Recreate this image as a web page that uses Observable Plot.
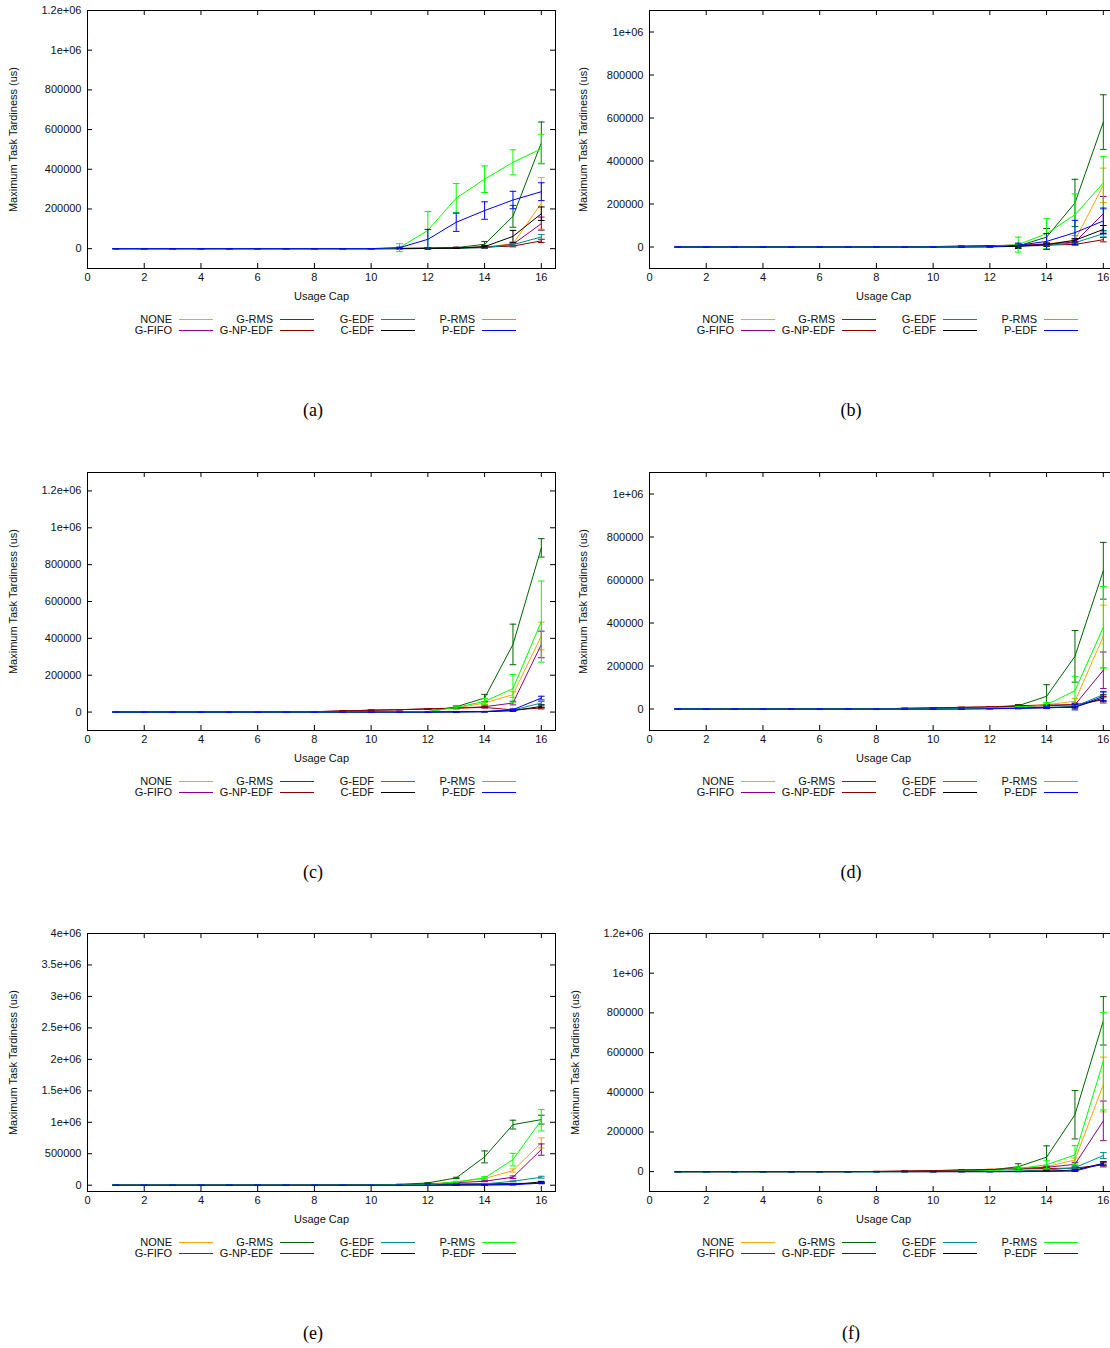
<!DOCTYPE html>
<html><head><meta charset="utf-8">
<script src="https://cdn.jsdelivr.net/npm/d3@7"></script>
<script src="https://cdn.jsdelivr.net/npm/@observablehq/plot@0.6"></script>
<style>
html,body{margin:0;padding:0;overflow:hidden;background:#fff;}
#root{position:relative;width:1110px;height:1348px;overflow:hidden;}
.panel{position:absolute;width:560px;height:440px;}
.panel svg{position:absolute;left:0;top:0;}
.lg{position:absolute;font:11px "Liberation Sans",Arial,sans-serif;color:#111;line-height:12px;white-space:nowrap;}
.lgl{position:absolute;height:1px;}
.cap{position:absolute;font:18px "Liberation Serif","Times New Roman",serif;color:#000;transform:translateX(-50%);}
</style></head><body><div id="root"></div>
<script>
// ---------- data ----------
const xs = [1,2,3,4,5,6,7,8,9,10,11,12,13,14,15,16];
const xTicks = [0,2,4,6,8,10,12,14,16];
const seriesNames = ["NONE","G-FIFO","G-RMS","G-NP-EDF","G-EDF","C-EDF","P-RMS","P-EDF"];
const seriesColors = ["#ffa500","#8b008b","#006400","#8b0000","#008b8b","#000000","#00ff00","#0000ff"];
const captions = ["(a)","(b)","(c)","(d)","(e)","(f)"];
const yLabel = "Maximum Task Tardiness (us)";
const xLabel = "Usage Cap";

const yTicksA = [0,200000,400000,600000,800000,1000000,1200000];
const yTicksB = [0,200000,400000,600000,800000,1000000];
const yTicksC = [0,200000,400000,600000,800000,1000000,1200000];
const yTicksD = [0,200000,400000,600000,800000,1000000];
const yTicksE = [0,500000,1000000,1500000,2000000,2500000,3000000,3500000,4000000];
const yTicksF = [0,200000,400000,600000,800000,1000000,1200000];

// mean values, series order = seriesNames, x = 1..16
const meanA = [
  [0,0,0,0,0,0,0,0,0,0,1000,2000,3000,8000,25000,228000],
  [0,0,0,0,0,0,0,0,0,0,1000,2000,3000,6000,22000,126000],
  [0,0,0,0,0,0,0,0,0,0,0,1000,5000,22000,163000,533000],
  [0,0,0,0,0,0,0,0,0,0,1000,3000,5000,8000,13000,39000],
  [0,0,0,0,0,0,0,0,0,0,0,1000,2000,5000,20000,59000],
  [0,0,0,0,0,0,0,0,0,0,0,1000,2000,10000,62000,176000],
  [0,0,0,0,0,0,0,0,0,0,5000,92000,255000,350000,435000,503000],
  [0,0,0,0,0,0,0,0,0,0,5000,47000,133000,192000,245000,287000]
];
const errA = [
  [0,0,0,0,0,0,0,0,0,0,0,0,1000,3000,8000,130000],
  [0,0,0,0,0,0,0,0,0,0,0,0,1000,2000,6000,33000],
  [0,0,0,0,0,0,0,0,0,0,0,0,2000,14000,55000,105000],
  [0,0,0,0,0,0,0,0,0,0,0,1000,2000,3000,4000,8000],
  [0,0,0,0,0,0,0,0,0,0,0,0,1000,2000,6000,12000],
  [0,0,0,0,0,0,0,0,0,0,0,0,1000,6000,30000,34000],
  [0,0,0,0,0,0,0,0,0,0,20000,95000,73000,67000,63000,73000],
  [0,0,0,0,0,0,0,0,0,0,3000,50000,46000,44000,44000,45000]
];
const meanB = [
  [0,0,0,0,0,0,0,1000,1000,2000,4000,6000,9000,15000,31000,287000],
  [0,0,0,0,0,0,0,1000,1000,2000,4000,6000,9000,13000,23000,155000],
  [0,0,0,0,0,0,0,0,1000,1000,2000,3000,5000,46000,205000,581000],
  [0,0,0,0,0,0,0,1000,1000,2000,3000,5000,7000,9000,12000,34000],
  [0,0,0,0,0,0,0,0,0,1000,1000,2000,4000,7000,20000,62000],
  [0,0,0,0,0,0,0,0,0,0,1000,1000,3000,11000,31000,82000],
  [0,0,0,0,0,0,0,0,0,0,1000,2000,11000,62000,150000,298000],
  [0,0,0,0,0,0,0,0,0,0,0,1000,8000,26000,67000,121000]
];
const errB = [
  [0,0,0,0,0,0,0,0,0,0,0,0,2000,4000,8000,80000],
  [0,0,0,0,0,0,0,0,0,0,0,0,2000,3000,10000,80000],
  [0,0,0,0,0,0,0,0,0,0,0,0,3000,40000,110000,127000],
  [0,0,0,0,0,0,0,0,0,0,0,0,1000,2000,3000,10000],
  [0,0,0,0,0,0,0,0,0,0,0,0,1000,2000,5000,15000],
  [0,0,0,0,0,0,0,0,0,0,0,0,10000,8000,8000,18000],
  [0,0,0,0,0,0,0,0,0,0,0,0,35000,70000,97000,122000],
  [0,0,0,0,0,0,0,0,0,0,0,0,10000,37000,57000,60000]
];
const meanC = [
  [0,0,0,0,0,0,1000,2000,6000,10000,13000,17000,22000,49000,95000,413000],
  [0,0,0,0,0,0,1000,2000,6000,10000,13000,17000,21000,29000,49000,367000],
  [0,0,0,0,0,0,0,0,1000,1000,1000,2000,29000,76000,367000,891000],
  [0,0,0,0,0,0,1000,2000,6000,10000,13000,17000,22000,25000,12000,22000],
  [0,0,0,0,0,0,0,0,0,0,0,1000,1000,3000,11000,49000],
  [0,0,0,0,0,0,0,0,0,0,0,0,1000,2000,7000,31000],
  [0,0,0,0,0,0,0,0,0,1000,1000,2000,25000,58000,127000,491000],
  [0,0,0,0,0,0,0,0,0,0,0,0,1000,2000,13000,76000]
];
const errC = [
  [0,0,0,0,0,0,0,0,0,0,0,2000,3000,8000,15000,75000],
  [0,0,0,0,0,0,0,0,0,0,0,2000,3000,5000,10000,72000],
  [0,0,0,0,0,0,0,0,0,0,0,0,5000,20000,110000,50000],
  [0,0,0,0,0,0,0,0,0,0,0,2000,3000,3000,3000,5000],
  [0,0,0,0,0,0,0,0,0,0,0,0,0,1000,3000,8000],
  [0,0,0,0,0,0,0,0,0,0,0,0,0,1000,3000,7000],
  [0,0,0,0,0,0,0,0,0,0,0,0,8000,15000,77000,220000],
  [0,0,0,0,0,0,0,0,0,0,0,0,0,1000,4000,10000]
];
const meanD = [
  [0,0,0,0,0,0,0,1000,3000,5000,7000,9000,15000,20000,36000,338000],
  [0,0,0,0,0,0,0,1000,3000,5000,7000,9000,12000,15000,20000,180000],
  [0,0,0,0,0,0,0,0,1000,2000,3000,5000,15000,59000,245000,643000],
  [0,0,0,0,0,0,0,1000,3000,5000,8000,10000,15000,18000,20000,43000],
  [0,0,0,0,0,0,0,0,0,1000,2000,3000,5000,8000,12000,67000],
  [0,0,0,0,0,0,0,0,0,0,1000,2000,4000,6000,9000,51000],
  [0,0,0,0,0,0,0,0,0,1000,2000,4000,8000,20000,85000,380000],
  [0,0,0,0,0,0,0,0,0,0,0,1000,3000,6000,8000,59000]
];
const errD = [
  [0,0,0,0,0,0,0,0,0,0,0,0,5000,8000,12000,145000],
  [0,0,0,0,0,0,0,0,0,0,0,0,3000,5000,8000,85000],
  [0,0,0,0,0,0,0,0,0,0,0,0,6000,54000,120000,132000],
  [0,0,0,0,0,0,0,0,0,0,0,0,3000,4000,5000,15000],
  [0,0,0,0,0,0,0,0,0,0,0,0,2000,3000,5000,15000],
  [0,0,0,0,0,0,0,0,0,0,0,0,2000,3000,5000,15000],
  [0,0,0,0,0,0,0,0,0,0,0,0,4000,10000,67000,190000],
  [0,0,0,0,0,0,0,0,0,0,0,0,2000,4000,12000,20000]
];
const meanE = [
  [0,0,0,0,0,0,0,2000,5000,8000,12000,20000,53000,106000,233000,672000],
  [0,0,0,0,0,0,0,2000,5000,8000,12000,18000,40000,63000,127000,566000],
  [0,0,0,0,0,0,0,0,1000,3000,10000,37000,116000,450000,963000,1042000],
  [0,0,0,0,0,0,0,2000,5000,8000,12000,15000,20000,25000,28000,30000],
  [0,0,0,0,0,0,0,0,0,1000,2000,4000,8000,20000,63000,127000],
  [0,0,0,0,0,0,0,0,0,0,1000,2000,4000,6000,10000,53000],
  [0,0,0,0,0,0,0,0,1000,2000,4000,8000,53000,116000,407000,1032000],
  [0,0,0,0,0,0,0,0,0,0,0,1000,2000,4000,8000,32000]
];
const errE = [
  [0,0,0,0,0,0,0,0,0,0,0,0,5000,10000,25000,80000],
  [0,0,0,0,0,0,0,0,0,0,0,0,5000,8000,20000,90000],
  [0,0,0,0,0,0,0,0,0,0,0,0,10000,95000,70000,70000],
  [0,0,0,0,0,0,0,0,0,0,0,0,0,0,0,5000],
  [0,0,0,0,0,0,0,0,0,0,0,0,0,3000,6000,15000],
  [0,0,0,0,0,0,0,0,0,0,0,0,0,0,2000,8000],
  [0,0,0,0,0,0,0,0,0,0,0,0,8000,20000,100000,170000],
  [0,0,0,0,0,0,0,0,0,0,0,0,0,0,2000,8000]
];
const meanF = [
  [0,0,0,0,0,0,0,1000,3000,5000,8000,12000,18000,25000,59000,439000],
  [0,0,0,0,0,0,0,1000,3000,5000,8000,11000,15000,22000,37000,256000],
  [0,0,0,0,0,0,0,0,1000,2000,4000,8000,25000,73000,287000,760000],
  [0,0,0,0,0,0,0,1000,2000,5000,8000,10000,13000,16000,18000,34000],
  [0,0,0,0,0,0,0,0,0,0,1000,2000,4000,8000,20000,81000],
  [0,0,0,0,0,0,0,0,0,0,0,0,1000,3000,8000,42000],
  [0,0,0,0,0,0,0,0,0,1000,2000,4000,15000,35000,84000,556000],
  [0,0,0,0,0,0,0,0,0,0,0,0,0,1000,3000,40000]
];
const errF = [
  [0,0,0,0,0,0,0,0,0,0,0,0,3000,5000,10000,138000],
  [0,0,0,0,0,0,0,0,0,0,0,0,3000,5000,8000,100000],
  [0,0,0,0,0,0,0,0,0,0,0,0,15000,57000,122000,122000],
  [0,0,0,0,0,0,0,0,0,0,0,0,0,2000,3000,10000],
  [0,0,0,0,0,0,0,0,0,0,0,0,0,2000,5000,15000],
  [0,0,0,0,0,0,0,0,0,0,0,0,0,1000,3000,8000],
  [0,0,0,0,0,0,0,0,0,0,0,0,8000,20000,47000,245000],
  [0,0,0,0,0,0,0,0,0,0,0,0,0,0,2000,10000]
];

// ---------- layout ----------
const panels = [
  {mean: meanA, err: errA, ticks: yTicksA, top: 1200000, col: 0, row: 0, ylabDx: -74},
  {mean: meanB, err: errB, ticks: yTicksB, top: 1100000, col: 1, row: 0, ylabDx: -66},
  {mean: meanC, err: errC, ticks: yTicksC, top: 1300000, col: 0, row: 1, ylabDx: -74},
  {mean: meanD, err: errD, ticks: yTicksD, top: 1100000, col: 1, row: 1, ylabDx: -66},
  {mean: meanE, err: errE, ticks: yTicksE, top: 4000000, col: 0, row: 2, ylabDx: -74},
  {mean: meanF, err: errF, ticks: yTicksF, top: 1200000, col: 1, row: 2, ylabDx: -74}
];
const colLeft = [0, 562];
const rowTop = [0, 462, 923];
const capX = [313, 289];

const W = 560, H = 304, ML = 87, MR = 5, MT = 10, MB = 36;
const FW = W - ML - MR, FH = H - MT - MB;

const fmt = v => v === 0 ? "0" : (v >= 1e6 ? `${+(v / 1e6).toFixed(2)}e+06` : `${v}`);
const hcap = {draw(ctx, size) { const r = Math.sqrt(size / Math.PI); ctx.moveTo(-r, 0); ctx.lineTo(r, 0); }};

const root = document.getElementById("root");

panels.forEach((p, k) => {
  const marks = [];
  seriesNames.forEach((name, i) => {
    const rows = xs.map((x, j) => ({x, y: p.mean[i][j], lo: p.mean[i][j] - p.err[i][j], hi: p.mean[i][j] + p.err[i][j]}));
    const c = seriesColors[i];
    marks.push(Plot.line(rows, {x: "x", y: "y", stroke: c, strokeWidth: 1}));
    marks.push(Plot.ruleX(rows, {x: "x", y1: "lo", y2: "hi", stroke: c, strokeWidth: 1}));
    marks.push(Plot.dot(rows, {x: "x", y: "lo", r: 3.3, symbol: hcap, stroke: c, fill: "none", strokeWidth: 1}));
    marks.push(Plot.dot(rows, {x: "x", y: "hi", r: 3.3, symbol: hcap, stroke: c, fill: "none", strokeWidth: 1}));
  });
  const svg = Plot.plot({
    width: W, height: H,
    marginTop: MT, marginBottom: MB, marginLeft: ML, marginRight: MR,
    x: {domain: [0, 16.5]},
    y: {domain: [-100000, p.top]},
    style: {fontFamily: '"Liberation Sans", Arial, sans-serif', fontSize: "11px", color: "#111", background: "transparent", overflow: "visible"},
    marks: [
      Plot.tickX(xTicks, {x: d => d, insetTop: FH - 5, stroke: "#000"}),
      Plot.tickX(xTicks, {x: d => d, insetBottom: FH - 5, stroke: "#000"}),
      Plot.tickY(p.ticks, {y: d => d, insetRight: FW - 5, stroke: "#000"}),
      Plot.tickY(p.ticks, {y: d => d, insetLeft: FW - 5, stroke: "#000"}),
      Plot.axisX(xTicks, {tickSize: 0, tickPadding: 5, label: null}),
      Plot.axisY(p.ticks, {tickSize: 0, tickPadding: 6, tickFormat: fmt, label: null}),
      Plot.text([xLabel], {frameAnchor: "bottom", dy: 28, text: d => d, lineAnchor: "middle"}),
      Plot.text([yLabel], {frameAnchor: "left", dx: p.ylabDx, rotate: -90, text: d => d, textAnchor: "middle", lineAnchor: "middle"}),
      ...marks,
      Plot.frame({stroke: "#000", strokeWidth: 1})
    ]
  });
  const div = document.createElement("div");
  div.className = "panel";
  div.style.left = colLeft[p.col] + "px";
  div.style.top = rowTop[p.row] + "px";
  div.appendChild(svg);

  // legend
  seriesNames.forEach((name, i) => {
    const col = Math.floor(i / 2), row = i % 2;
    const right = 172 + col * 101;
    const yc = 319 + row * 11;
    const t = document.createElement("div");
    t.className = "lg";
    t.style.left = (right - 120) + "px";
    t.style.width = "120px";
    t.style.textAlign = "right";
    t.style.top = (yc - 6) + "px";
    t.textContent = name;
    div.appendChild(t);
    const l = document.createElement("div");
    l.className = "lgl";
    l.style.left = (right + 7) + "px";
    l.style.width = "34px";
    l.style.top = yc + "px";
    l.style.background = seriesColors[i];
    div.appendChild(l);
  });

  const cap = document.createElement("div");
  cap.className = "cap";
  cap.style.left = capX[p.col] + "px";
  cap.style.top = "400px";
  cap.textContent = captions[k];
  div.appendChild(cap);

  root.appendChild(div);
});
</script>
</body></html>
